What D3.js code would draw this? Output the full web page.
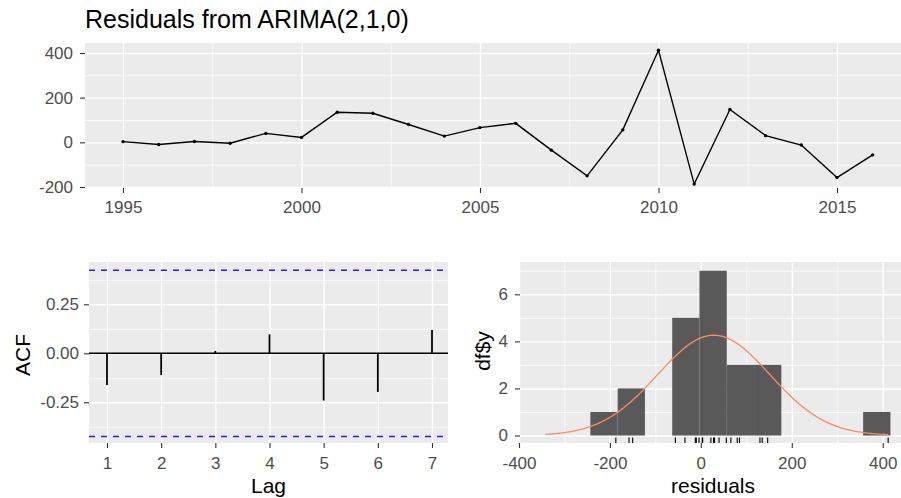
<!DOCTYPE html>
<html lang="en">
<head>
<meta charset="UTF-8">
<script src="https://d3js.org/d3.v7.min.js"></script>
<style>
body { margin: 0; background: #fff; }
svg { display: block; font-family: "Liberation Sans", Arial, sans-serif; }
.panel-bg { fill: #ebebeb; }
.grid .domain, .axis .domain { display: none; }
.grid line { stroke: #fff; }
.grid.major line { stroke-width: 1.4; }
.grid.minor line { stroke-width: 0.7; }
.axis line { stroke: #333; stroke-width: 1.1; }
.axis text { fill: #4d4d4d; font-size: 17px; font-family: "Liberation Sans", Arial, sans-serif; }
.axis-title { font-size: 21px; fill: #000; }
.title { font-size: 25px; fill: #000; }
</style>
</head>
<body>
<svg width="901" height="498"></svg>
<script>
// residual series, one value per year
const years = [1995, 1996, 1997, 1998, 1999, 2000, 2001, 2002, 2003, 2004, 2005,
               2006, 2007, 2008, 2009, 2010, 2011, 2012, 2013, 2014, 2015, 2016];
const residuals = [3, -10, 4, -4, 40, 22, 135, 130, 80, 28, 66,
                   85, -35, -150, 56, 412, -187, 147, 30, -12, -158, -56];

// autocorrelation of residuals
const lags = [1, 2, 3, 4, 5, 6, 7];
const acfValues = [-0.162, -0.111, 0.012, 0.097, -0.241, -0.197, 0.119];
const acfLimit = 0.424;

// histogram breaks
const histBreaks = [-243, -183, -123, -63, -3, 57, 117, 177, 237, 297, 357, 417];

// ticks
const yearTicks = [1995, 2000, 2005, 2010, 2015];
const yearMinor = [1997.5, 2002.5, 2007.5, 2012.5];
const residTicks = [-200, 0, 200, 400];
const residMinor = [-100, 100, 300];
const acfTicks = [-0.25, 0, 0.25];
const acfMinor = [-0.375, -0.125, 0.125, 0.375];
const histXTicks = [-400, -200, 0, 200, 400];
const histXMinor = [-300, -100, 100, 300];
const countTicks = [0, 2, 4, 6];
const countMinor = [1, 3, 5, 7];

const svg = d3.select('svg');

// draws background, grid and axes of one ggplot-like panel
function panel(box, x, y, o) {
    const g = svg.append('g');
    const h = box.y1 - box.y0, w = box.x1 - box.x0;
    g.append('rect').attr('class', 'panel-bg')
        .attr('x', box.x0).attr('y', box.y0).attr('width', w).attr('height', h);

    const grid = (cls, xv, yv) => {
        if (xv) g.append('g').attr('class', 'grid ' + cls)
            .attr('transform', 'translate(0,' + box.y1 + ')')
            .call(d3.axisBottom(x).tickValues(xv).tickSize(-h).tickFormat(''));
        if (yv) g.append('g').attr('class', 'grid ' + cls)
            .attr('transform', 'translate(' + box.x0 + ',0)')
            .call(d3.axisLeft(y).tickValues(yv).tickSize(-w).tickFormat(''));
    };
    grid('minor', o.xMinor, o.yMinor);
    grid('major', o.xTicks, o.yTicks);

    g.append('g').attr('class', 'axis')
        .attr('transform', 'translate(0,' + box.y1 + ')')
        .call(d3.axisBottom(x).tickValues(o.xTicks).tickSizeInner(5).tickSizeOuter(0)
            .tickPadding(o.xPad).tickFormat(o.xFmt));
    g.append('g').attr('class', 'axis')
        .attr('transform', 'translate(' + box.x0 + ',0)')
        .call(d3.axisLeft(y).tickValues(o.yTicks).tickSizeInner(5).tickSizeOuter(0)
            .tickPadding(o.yPad).tickFormat(o.yFmt));
    return g;
}

// ---- top: residual time series
const topBox = { x0: 85, x1: 905, y0: 43, y1: 188 };
const xTop = d3.scaleLinear().domain([1995, 2015]).range([123, 837]);
const yTop = d3.scaleLinear().domain([-200, 400]).range([187, 53]);
const gTop = panel(topBox, xTop, yTop, {
    xTicks: yearTicks, xMinor: yearMinor, yTicks: residTicks, yMinor: residMinor,
    xPad: 8, yPad: 7, xFmt: d => String(d), yFmt: d => String(d)
});
const series = years.map((yr, i) => ({ yr: yr, v: residuals[i] }));
gTop.append('path').datum(series)
    .attr('fill', 'none').attr('stroke', '#000').attr('stroke-width', 1.4)
    .attr('d', d3.line().x(d => xTop(d.yr)).y(d => yTop(d.v)));
gTop.selectAll('circle').data(series).enter().append('circle')
    .attr('cx', d => xTop(d.yr)).attr('cy', d => yTop(d.v)).attr('r', 1.7).attr('fill', '#000');
svg.append('text').attr('class', 'title').attr('x', 85).attr('y', 27.5)
    .text('Residuals from ARIMA(2,1,0)');

// ---- bottom left: ACF
const acfBox = { x0: 89, x1: 448, y0: 262, y1: 443 };
const xAcf = d3.scaleLinear().domain([1, 7]).range([107, 432]);
const yAcf = d3.scaleLinear().domain([-0.25, 0.25]).range([402.3, 304.3]);
const gAcf = panel(acfBox, xAcf, yAcf, {
    xTicks: lags, xMinor: null, yTicks: acfTicks, yMinor: acfMinor,
    xPad: 9, yPad: 5, xFmt: d => String(d), yFmt: d => d.toFixed(2)
});
gAcf.selectAll('.limit').data([acfLimit, -acfLimit]).enter().append('line')
    .attr('x1', acfBox.x0).attr('x2', acfBox.x1)
    .attr('y1', d => yAcf(d)).attr('y2', d => yAcf(d))
    .attr('stroke', '#1f1fff').attr('stroke-width', 1.5).attr('stroke-dasharray', '6,6');
gAcf.append('line')
    .attr('x1', acfBox.x0).attr('x2', acfBox.x1)
    .attr('y1', yAcf(0)).attr('y2', yAcf(0))
    .attr('stroke', '#000').attr('stroke-width', 1.4);
gAcf.selectAll('.spike').data(lags).enter().append('line')
    .attr('x1', d => xAcf(d)).attr('x2', d => xAcf(d))
    .attr('y1', yAcf(0)).attr('y2', (d, i) => yAcf(acfValues[i]))
    .attr('stroke', '#000').attr('stroke-width', 1.8);
svg.append('text').attr('class', 'axis-title').attr('text-anchor', 'middle')
    .attr('x', (acfBox.x0 + acfBox.x1) / 2).attr('y', 493).text('Lag');
svg.append('text').attr('class', 'axis-title').attr('text-anchor', 'middle')
    .attr('transform', 'translate(30,355) rotate(-90)').text('ACF');

// ---- bottom right: histogram with normal curve and rug
const histBox = { x0: 520, x1: 906, y0: 262, y1: 443 };
const xHist = d3.scaleLinear().domain([-400, 400]).range([519, 882.7]);
const yHist = d3.scaleLinear().domain([0, 6]).range([435.5, 294.3]);
const gHist = panel(histBox, xHist, yHist, {
    xTicks: histXTicks, xMinor: histXMinor, yTicks: countTicks, yMinor: countMinor,
    xPad: 9, yPad: 7, xFmt: d => String(d), yFmt: d => String(d)
});
const bins = d3.bin()
    .domain([histBreaks[0], histBreaks[histBreaks.length - 1]])
    .thresholds(histBreaks.slice(1, -1))(residuals);
gHist.selectAll('.bar').data(bins.filter(b => b.length > 0)).enter().append('rect')
    .attr('x', d => xHist(d.x0)).attr('width', d => xHist(d.x1) - xHist(d.x0))
    .attr('y', d => yHist(d.length)).attr('height', d => yHist(0) - yHist(d.length))
    .attr('fill', '#595959');

// normal density scaled to counts, as the original plot adds it
const mu = d3.mean(residuals), sd = d3.deviation(residuals);
const binWidth = histBreaks[1] - histBreaks[0];
const lo = Math.min(d3.min(residuals), mu - 3 * sd), hi = Math.max(d3.max(residuals), mu + 3 * sd);
const curve = d3.range(0, 201).map(i => {
    const v = lo + (hi - lo) * i / 200;
    const z = (v - mu) / sd;
    return { x: v, y: residuals.length * binWidth * Math.exp(-z * z / 2) / (sd * Math.sqrt(2 * Math.PI)) };
});
gHist.append('path').datum(curve)
    .attr('fill', 'none').attr('stroke', '#ff8a62').attr('stroke-width', 1.3)
    .attr('d', d3.line().x(d => xHist(d.x)).y(d => yHist(d.y)));
gHist.selectAll('.rug').data(residuals).enter().append('line')
    .attr('x1', d => xHist(d)).attr('x2', d => xHist(d))
    .attr('y1', histBox.y1).attr('y2', histBox.y1 - 5.5)
    .attr('stroke', '#000').attr('stroke-width', 1.1);
svg.append('text').attr('class', 'axis-title').attr('text-anchor', 'middle')
    .attr('x', 713).attr('y', 493).text('residuals');
svg.append('text').attr('class', 'axis-title').attr('text-anchor', 'middle')
    .attr('transform', 'translate(490,351) rotate(-90)').text('df$y');
</script>
</body>
</html>
